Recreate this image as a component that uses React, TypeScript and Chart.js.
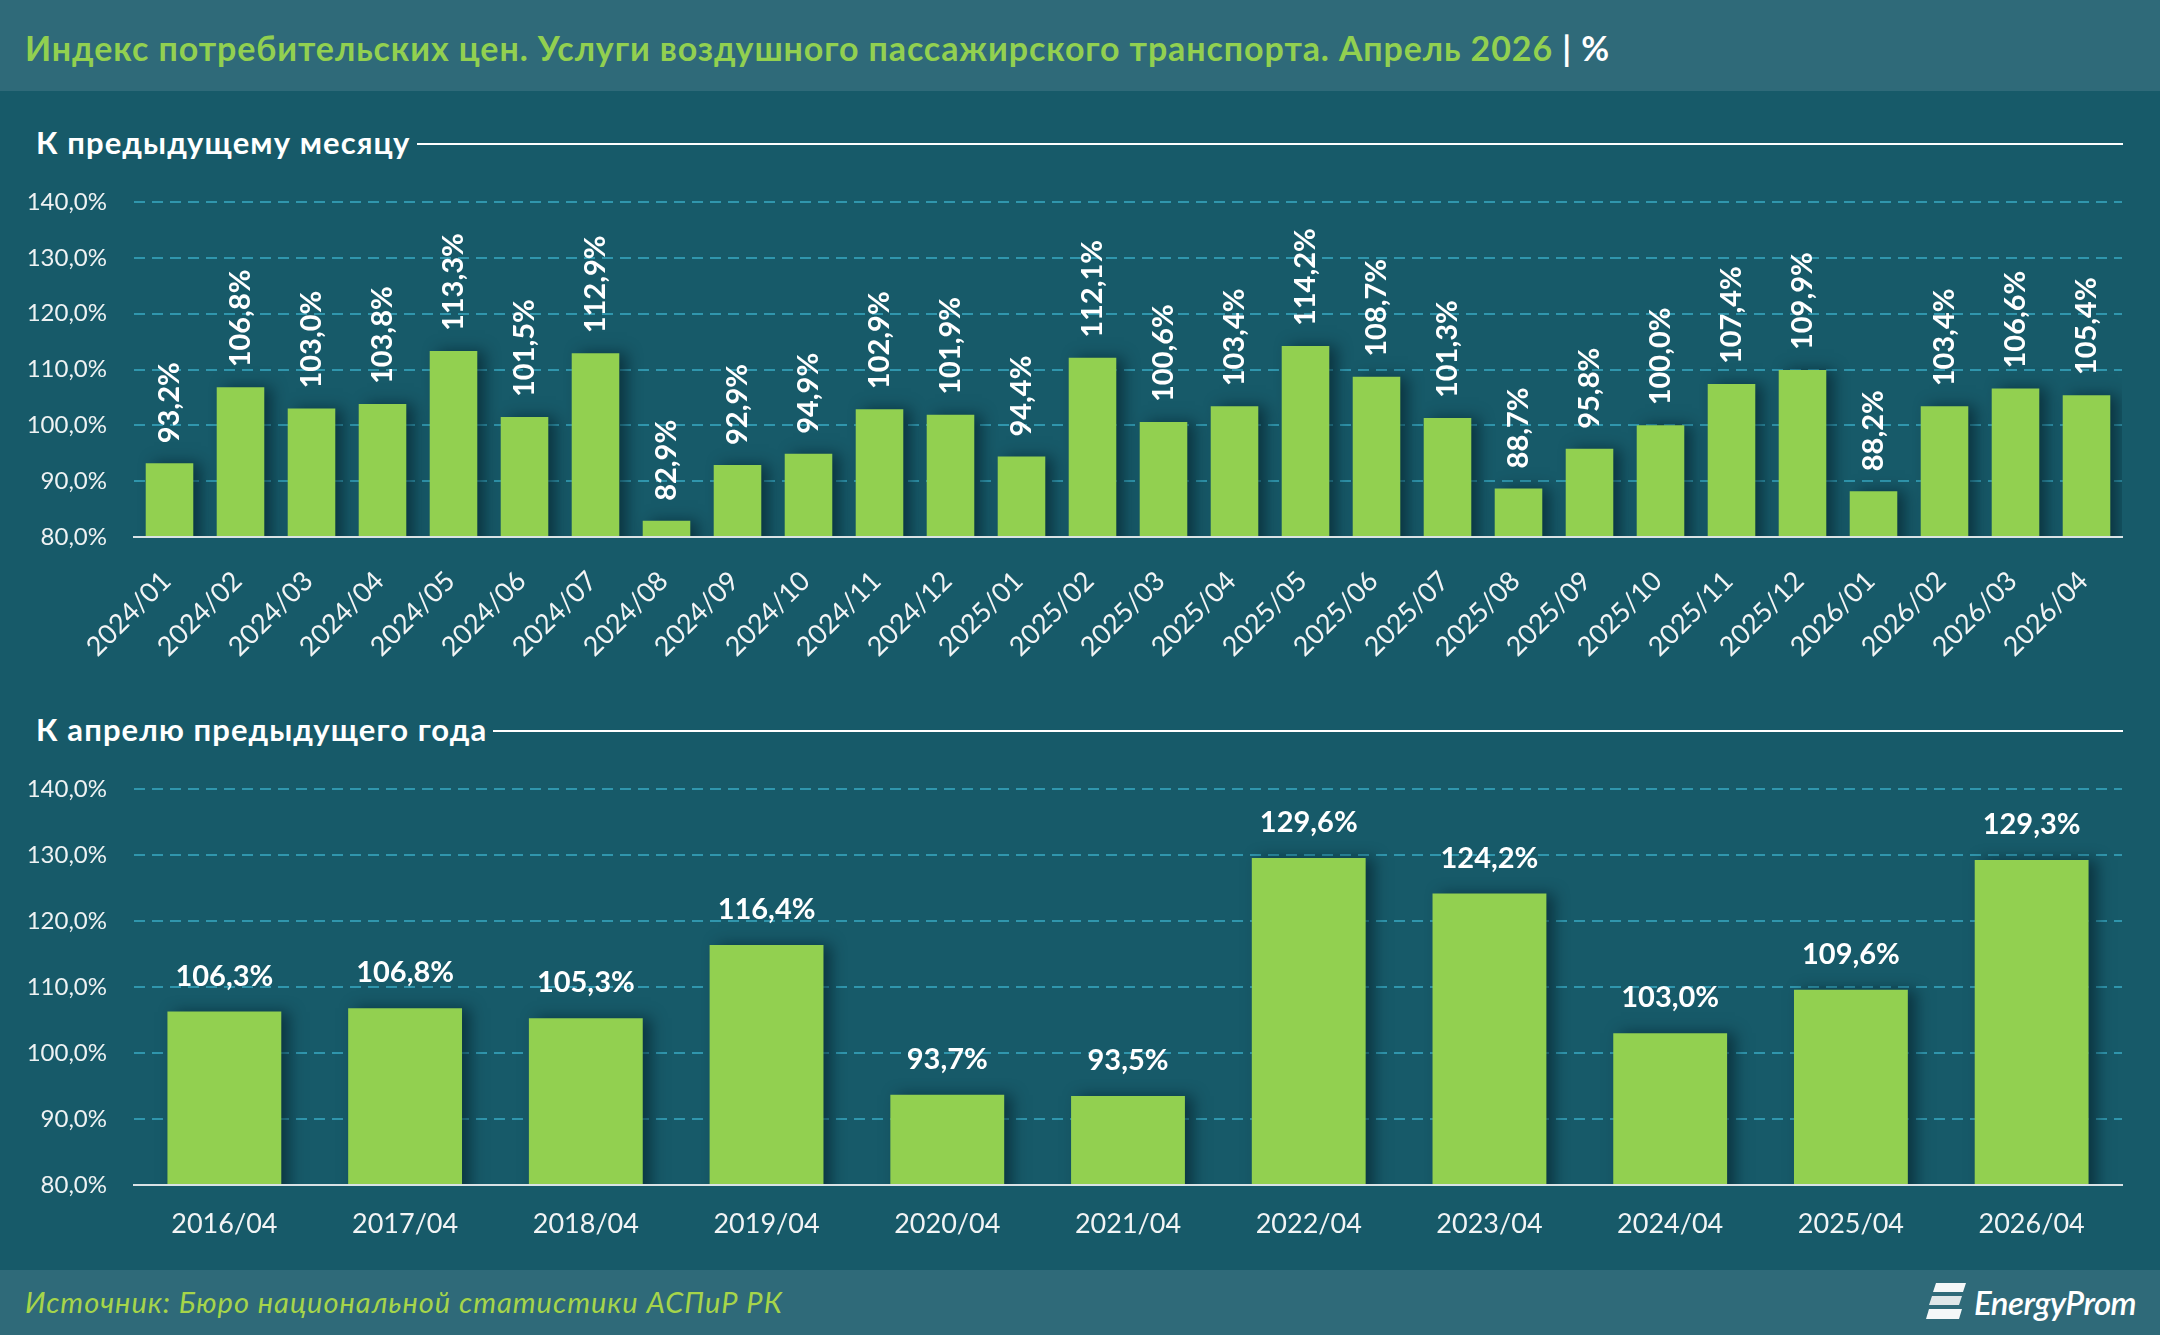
import { useEffect, useRef } from "react";
import { Chart, registerables } from "chart.js";

Chart.register(...registerables);

// Monthly index, previous month = 100
const monthLabels = [
  "2024/01", "2024/02", "2024/03", "2024/04", "2024/05", "2024/06", "2024/07",
  "2024/08", "2024/09", "2024/10", "2024/11", "2024/12", "2025/01", "2025/02",
  "2025/03", "2025/04", "2025/05", "2025/06", "2025/07", "2025/08", "2025/09",
  "2025/10", "2025/11", "2025/12", "2026/01", "2026/02", "2026/03", "2026/04",
];
const monthValues = [
  93.2, 106.8, 103.0, 103.8, 113.3, 101.5, 112.9,
  82.9, 92.9, 94.9, 102.9, 101.9, 94.4, 112.1,
  100.6, 103.4, 114.2, 108.7, 101.3, 88.7, 95.8,
  100.0, 107.4, 109.9, 88.2, 103.4, 106.6, 105.4,
];

// April vs April of the previous year
const yearLabels = [
  "2016/04", "2017/04", "2018/04", "2019/04", "2020/04", "2021/04",
  "2022/04", "2023/04", "2024/04", "2025/04", "2026/04",
];
const yearValues = [106.3, 106.8, 105.3, 116.4, 93.7, 93.5, 129.6, 124.2, 103.0, 109.6, 129.3];

// Value axis range shared by both panels
const axisMin = 80;
const axisMax = 140;
const axisStep = 10;

const BG = "#175a69";
const BAND = "#2f6a79";
const BAR = "#92d050";
const GRID = "#3096ad";
const FONT = "Lato, 'Open Sans', sans-serif";

const pct = (v: number) => v.toFixed(1).replace(".", ",") + "%";

const barShadow = {
  id: "barShadow",
  beforeDatasetsDraw(chart: any) {
    const c = chart.ctx;
    c.save();
    c.shadowColor = "rgba(4, 28, 38, 0.6)";
    c.shadowBlur = 14;
    c.shadowOffsetX = 8;
    c.shadowOffsetY = 0;
  },
  afterDatasetsDraw(chart: any) {
    chart.ctx.restore();
  },
};

const verticalValueLabels = {
  id: "verticalValueLabels",
  afterDatasetsDraw(chart: any) {
    const { ctx } = chart;
    const meta = chart.getDatasetMeta(0);
    const data = chart.data.datasets[0].data as number[];
    ctx.save();
    ctx.fillStyle = "#ffffff";
    ctx.font = `bold 29px ${FONT}`;
    ctx.textAlign = "left";
    ctx.textBaseline = "middle";
    meta.data.forEach((bar: any, i: number) => {
      ctx.save();
      ctx.translate(bar.x, bar.y - 20);
      ctx.rotate(-Math.PI / 2);
      ctx.fillText(pct(data[i]), 0, 0);
      ctx.restore();
    });
    ctx.restore();
  },
};

const topValueLabels = {
  id: "topValueLabels",
  afterDatasetsDraw(chart: any) {
    const { ctx } = chart;
    const meta = chart.getDatasetMeta(0);
    const data = chart.data.datasets[0].data as number[];
    ctx.save();
    ctx.fillStyle = "#ffffff";
    ctx.font = `bold 29px ${FONT}`;
    ctx.textAlign = "center";
    ctx.textBaseline = "alphabetic";
    meta.data.forEach((bar: any, i: number) => {
      ctx.fillText(pct(data[i]), bar.x, bar.y - 26);
    });
    ctx.restore();
  },
};

// The value axis reserves half a label plus tick padding (about 41px) above the plot
function makeOptions(padTop: number, xHeight: number, xTicks: any) {
  return {
    responsive: false,
    animation: false as const,
    devicePixelRatio: 1,
    layout: { padding: { top: padTop, right: 38, left: 0, bottom: 0 } },
    plugins: { legend: { display: false }, tooltip: { enabled: false } },
    scales: {
      x: {
        grid: { display: false, drawTicks: false },
        border: { display: true, color: "#d9e2e5", width: 2, z: 1 },
        ticks: { autoSkip: false, color: "#f2f4f5", ...xTicks },
        afterFit: (s: any) => {
          s.height = xHeight;
        },
      },
      y: {
        min: axisMin,
        max: axisMax,
        grid: { color: GRID, lineWidth: 2, drawTicks: false },
        border: { display: false, dash: [11, 7] },
        ticks: {
          stepSize: axisStep,
          padding: 27,
          color: "#eef2f3",
          font: { family: FONT, size: 24 },
          callback: (v: any) => pct(Number(v)),
        },
        afterFit: (s: any) => {
          s.width = 134;
        },
      },
    },
  };
}

function MonthlyChart() {
  const ref = useRef<HTMLCanvasElement>(null);
  useEffect(() => {
    const chart = new Chart(ref.current!, {
      type: "bar",
      data: {
        labels: monthLabels,
        datasets: [
          {
            data: monthValues,
            backgroundColor: BAR,
            categoryPercentage: 1,
            barPercentage: 0.67,
          },
        ],
      },
      options: makeOptions(42, 143, {
        minRotation: 45,
        maxRotation: 45,
        padding: 28,
        labelOffset: -3,
        font: { family: FONT, size: 27 },
      }) as any,
      plugins: [barShadow, verticalValueLabels],
    });
    return () => chart.destroy();
  }, []);
  return (
    <canvas
      ref={ref}
      width={2160}
      height={520}
      style={{ position: "absolute", left: 0, top: 160, width: 2160, height: 520 }}
    />
  );
}

function YearlyChart() {
  const ref = useRef<HTMLCanvasElement>(null);
  useEffect(() => {
    const chart = new Chart(ref.current!, {
      type: "bar",
      data: {
        labels: yearLabels,
        datasets: [
          {
            data: yearValues,
            backgroundColor: BAR,
            categoryPercentage: 1,
            barPercentage: 0.63,
          },
        ],
      },
      options: makeOptions(41, 75, {
        maxRotation: 0,
        minRotation: 0,
        padding: 23,
        font: { family: FONT, size: 27 },
      }) as any,
      plugins: [barShadow, topValueLabels],
    });
    return () => chart.destroy();
  }, []);
  return (
    <canvas
      ref={ref}
      width={2160}
      height={512}
      style={{ position: "absolute", left: 0, top: 748, width: 2160, height: 512 }}
    />
  );
}

function SectionHeader({ text, top }: { text: string; top: number }) {
  return (
    <div
      style={{
        position: "absolute",
        left: 36,
        top,
        width: 2123 - 36,
        height: 36,
        display: "flex",
        alignItems: "center",
      }}
    >
      <span
        style={{
          color: "#ffffff",
          fontFamily: FONT,
          fontWeight: 700,
          fontSize: 31,
          letterSpacing: 1.1,
          whiteSpace: "nowrap",
          lineHeight: "36px",
        }}
      >
        {text}
      </span>
      <div style={{ flex: 1, height: 2, background: "#ffffff", marginLeft: 6, marginTop: 3 }} />
    </div>
  );
}

function Logo() {
  return (
    <div
      style={{
        position: "absolute",
        left: 1926,
        top: 1280,
        height: 44,
        display: "flex",
        alignItems: "center",
      }}
    >
      <svg width="44" height="42" viewBox="0 0 44 42">
        <path d="M10 2 L40 2 L37 11 L7 11 Z" fill="#f4f7f8" />
        <path d="M6 15 L36 15 L33 24 L3 24 Z" fill="#dfe7e9" />
        <path d="M3 28 L36 28 L33 38 L0 38 Z" fill="#f4f7f8" />
      </svg>
      <span
        style={{
          color: "#ffffff",
          fontFamily: FONT,
          fontStyle: "italic",
          fontWeight: 600,
          fontSize: 33,
          marginLeft: 4,
          letterSpacing: -0.5,
        }}
      >
        EnergyProm
      </span>
    </div>
  );
}

export default function App() {
  return (
    <div
      style={{
        position: "absolute",
        left: 0,
        top: 0,
        width: 2160,
        height: 1335,
        background: BG,
        overflow: "hidden",
      }}
    >
      <div style={{ position: "absolute", left: 0, top: 0, width: 2160, height: 91, background: BAND }} />
      <div
        style={{
          position: "absolute",
          left: 25,
          top: 26,
          height: 44,
          lineHeight: "44px",
          fontFamily: FONT,
          fontWeight: 700,
          fontSize: 34,
          letterSpacing: 0.9,
          color: BAR,
          whiteSpace: "nowrap",
        }}
      >
        Индекс потребительских цен. Услуги воздушного пассажирского транспорта. Апрель 2026
        <span style={{ color: "#ffffff" }}> | %</span>
      </div>

      <SectionHeader text="К предыдущему месяцу" top={124} />
      <MonthlyChart />

      <SectionHeader text="К апрелю предыдущего года" top={711} />
      <YearlyChart />

      <div style={{ position: "absolute", left: 0, top: 1270, width: 2160, height: 65, background: BAND }} />
      <div
        style={{
          position: "absolute",
          left: 25,
          top: 1285,
          height: 34,
          lineHeight: "34px",
          fontFamily: FONT,
          fontStyle: "italic",
          fontSize: 29,
          letterSpacing: 1,
          color: "#a6d54a",
          whiteSpace: "nowrap",
        }}
      >
        Источник: Бюро национальной статистики АСПиР РК
      </div>
      <Logo />
    </div>
  );
}
